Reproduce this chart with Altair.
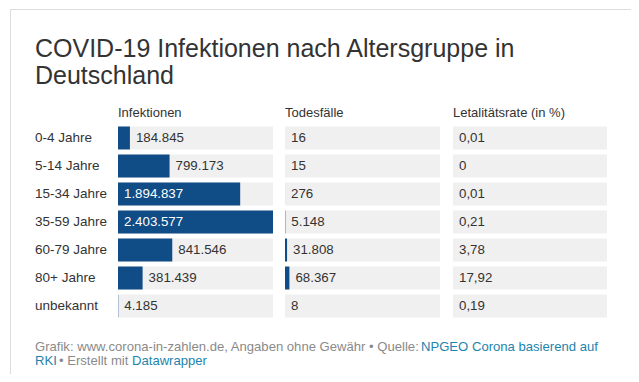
import altair as alt
import pandas as pd

# ---- data ----
groups = ["0-4 Jahre", "5-14 Jahre", "15-34 Jahre", "35-59 Jahre",
          "60-79 Jahre", "80+ Jahre", "unbekannt"]
infektionen = [184845, 799173, 1894837, 2403577, 841546, 381439, 4185]
todesfaelle = [16, 15, 276, 5148, 31808, 68367, 8]
letalitaet = [0.01, 0, 0.01, 0.21, 3.78, 17.92, 0.19]
headers = ["Infektionen", "Todesfälle", "Letalitätsrate (in %)"]
title_lines = ["COVID-19 Infektionen nach Altersgruppe in", "Deutschland"]
footer_gray_1 = "Grafik: www.corona-in-zahlen.de, Angaben ohne Gewähr • Quelle:"
footer_link_1 = "NPGEO Corona basierend auf"
footer_link_2a = "RKI"
footer_gray_2 = "• Erstellt mit"
footer_link_2b = "Datawrapper"


def de_int(v):
    return f"{v:,}".replace(",", ".")


def de_dec(v):
    return f"{v:g}".replace(".", ",")


MAXV = max(infektionen)
df = pd.DataFrame({
    "group": groups,
    "inf": infektionen,
    "tod": todesfaelle,
    "let": letalitaet,
    "inf_lbl": [de_int(v) for v in infektionen],
    "tod_lbl": [de_int(v) for v in todesfaelle],
    "let_lbl": [de_dec(v) for v in letalitaet],
})

FONT = "Liberation Sans"
TXT = "#333333"
GRAY = "#8a8a8a"
LINK = "#1d84ad"
BAR = "#104c86"
BAND = "#f0f0f0"
FOOT = 13.1

Y = alt.Y("group:N", sort=groups, axis=None,
          scale=alt.Scale(domain=groups, range=[118.5, 309.5],
                          paddingInner=0.18, paddingOuter=0))

one = pd.DataFrame({"t": [""]})


def txt(s, x, y, size, color, baseline="alphabetic"):
    return alt.Chart(pd.DataFrame({"t": [s]})).mark_text(
        align="left", baseline=baseline, font=FONT, fontSize=size, color=color
    ).encode(x=alt.value(x), y=alt.value(y), text="t:N")


def column(val, lbl, x0, w):
    xs = alt.Scale(domain=[0, MAXV], range=[x0, x0 + w], nice=False, zero=True)
    base = alt.Chart(df).transform_calculate(
        full=str(MAXV),
        inside=f"datum.{val} > {MAXV} * 0.5",
        pos=f"datum.{val} > {MAXV} * 0.5 ? 0 : datum.{val}",
    ).encode(y=Y)
    band = base.mark_bar(color=BAND).encode(
        x=alt.X("full:Q", scale=xs, axis=None))
    bar = base.mark_bar(color=BAR).encode(
        x=alt.X(f"{val}:Q", scale=xs, axis=None))
    lab = base.mark_text(align="left", baseline="middle", dx=6,
                         font=FONT, fontSize=13.3).encode(
        x=alt.X("pos:Q", scale=xs, axis=None),
        text=f"{lbl}:N",
        color=alt.condition("datum.inside", alt.value("white"), alt.value(TXT)),
    )
    return alt.layer(band, bar, lab)


card = alt.Chart(one).mark_rect(fill="white", stroke="#dcdcdc", strokeWidth=1).encode(
    x=alt.value(2.5), x2=alt.value(627.5), y=alt.value(1.5), y2=alt.value(420))

row_labels = alt.Chart(df).mark_text(
    align="left", baseline="middle", font=FONT, fontSize=13.5, color=TXT
).encode(x=alt.value(27), y=Y, text="group:N")

layers = [
    card,
    txt(title_lines[0], 27, 49, 25, TXT),
    txt(title_lines[1], 27, 76, 25, TXT),
    txt(headers[0], 110, 109, 13, TXT),
    txt(headers[1], 277, 109, 13, TXT),
    txt(headers[2], 445, 109, 13, TXT),
    row_labels,
    column("inf", "inf_lbl", 110, 155),
    column("tod", "tod_lbl", 277, 155),
    column("let", "let_lbl", 445, 154),
    txt(footer_gray_1, 27, 343, FOOT, GRAY),
    txt(footer_link_1, 413, 343, FOOT, LINK),
    txt(footer_link_2a, 27, 357, FOOT, LINK),
    txt(footer_gray_2, 51, 357, FOOT, GRAY),
    txt(footer_link_2b, 124, 357, FOOT, LINK),
]

chart = alt.layer(*layers).resolve_scale(x="independent").properties(
    width=623, height=366, padding=0,
    autosize=alt.AutoSizeParams(type="none"),
    background="white",
).configure_view(strokeWidth=0)

chart.save("out.html", embed_options={"renderer": "svg", "actions": False})
